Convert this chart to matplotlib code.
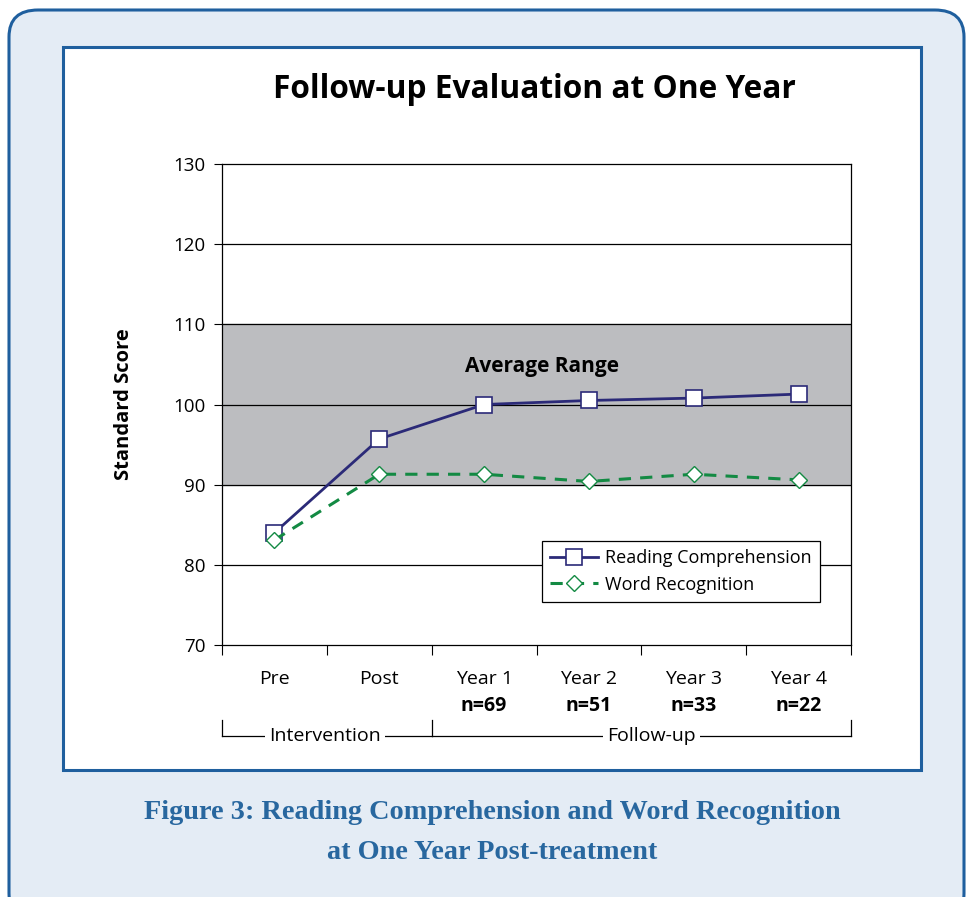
import numpy as np
import matplotlib.pyplot as plt
from matplotlib.patches import FancyBboxPatch, Rectangle
from matplotlib.lines import Line2D

categories = ["Pre", "Post", "Year 1", "Year 2", "Year 3", "Year 4"]
n_labels = ["", "", "n=69", "n=51", "n=33", "n=22"]
reading = [84.0, 95.7, 100.0, 100.5, 100.8, 101.3]
word = [83.1, 91.3, 91.3, 90.4, 91.3, 90.6]
avg_low, avg_high = 90, 110

plt.rcParams['font.family'] = ['Open Sans', 'DejaVu Sans']

W, H = 971, 897
fig = plt.figure(figsize=(W / 100, H / 100), dpi=100)

def fx(px):
    return px / W

def fy(py):
    return 1 - py / H

# outer rounded panel
outer = FancyBboxPatch((fx(9), fy(920)), fx(955), fy(10) - fy(920),
                       boxstyle="round,pad=0,rounding_size=0.03",
                       transform=fig.transFigure, facecolor="#e4ecf5",
                       edgecolor="#1f5f9e", linewidth=2.2, zorder=0)
fig.patches.append(outer)
inner = Rectangle((fx(63), fy(770)), fx(858), fy(47) - fy(770),
                  transform=fig.transFigure, facecolor="white",
                  edgecolor="#1f5f9e", linewidth=2.2, zorder=1)
fig.patches.append(inner)

ax = fig.add_axes([fx(222), fy(645), fx(851) - fx(222), fy(164) - fy(645)])
ax.set_zorder(2)
x = np.arange(len(categories))

ax.axhspan(avg_low, avg_high, color="#bcbdc0", zorder=0)
for g in range(80, 130, 10):
    ax.axhline(g, color="black", linewidth=0.9, zorder=1)

ax.plot(x, reading, color="#2b2a78", linewidth=2.0, marker="s", markersize=11,
        markerfacecolor="white", markeredgecolor="#2b2a78", markeredgewidth=1.2,
        label="Reading Comprehension", zorder=3)
ax.plot(x, word, color="#138a43", linewidth=2.2, linestyle=(0, (4, 3)), marker="D",
        markersize=8, markerfacecolor="white", markeredgecolor="#138a43",
        markeredgewidth=1.0, label="Word Recognition", zorder=3)

ax.text(2.55, 104.7, "Average Range", ha="center", va="center", fontsize=15,
        fontweight="bold", zorder=2)

ax.set_xlim(-0.5, len(categories) - 0.5)
ax.set_ylim(70, 130)
ax.set_yticks(range(70, 131, 10))
ax.tick_params(axis="y", labelsize=13.5, length=6, direction="out", pad=6)
ax.set_xticks(np.arange(-0.5, len(categories), 1))
ax.set_xticklabels([])
ax.tick_params(axis="x", length=7, direction="out")
for s in ax.spines.values():
    s.set_linewidth(0.9)
ax.set_ylabel("Standard Score", fontsize=14.5, fontweight="bold", labelpad=28)

for i, c in enumerate(categories):
    ax.text(i, -0.07, c, transform=ax.get_xaxis_transform(), ha="center",
            va="center", fontsize=14)
    if n_labels[i]:
        ax.text(i, -0.127, n_labels[i], transform=ax.get_xaxis_transform(),
                ha="center", va="center", fontsize=14, fontweight="bold")

# group brackets
tr = ax.get_xaxis_transform()
yb = -0.19
ytop = -0.155
for xx in [-0.5, 1.5, 5.5]:
    ax.add_line(Line2D([xx, xx], [ytop, yb], transform=tr, color="black",
                       linewidth=0.9, clip_on=False))
groups = [("Intervention", -0.5, 1.5, 0.48), ("Follow-up", 1.5, 5.5, 3.6)]
for name, a, b, mid in groups:
    ax.text(mid, yb, name, transform=tr, ha="center", va="center",
            fontsize=14, bbox=dict(facecolor="white", edgecolor="none", pad=3))
    ax.add_line(Line2D([a, b], [yb, yb], transform=tr, color="black",
                       linewidth=0.9, clip_on=False, zorder=0))

leg = ax.legend(loc="lower right", bbox_to_anchor=(0.95, 0.09), fontsize=13,
                frameon=True, fancybox=False, edgecolor="black", framealpha=1,
                handlelength=2.7, handletextpad=0.35, borderpad=0.45,
                labelspacing=0.45, borderaxespad=0)
leg.get_frame().set_linewidth(0.9)

fig.text(fx(534), fy(90), "Follow-up Evaluation at One Year", ha="center",
         va="center", fontsize=22.8, fontweight="bold")

fig.text(fx(492), fy(812), "Figure 3: Reading Comprehension and Word Recognition",
         ha="center", va="center", fontsize=20.3, fontweight="bold",
         color="#28679f", family=["Liberation Serif", "DejaVu Serif"])
fig.text(fx(492), fy(852), "at One Year Post-treatment", ha="center",
         va="center", fontsize=20.3, fontweight="bold", color="#28679f",
         family=["Liberation Serif", "DejaVu Serif"])

fig.savefig("out.png", dpi=100)
